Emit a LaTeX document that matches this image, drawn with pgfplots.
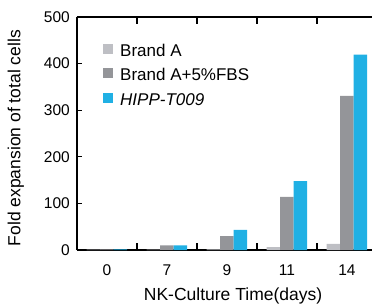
\documentclass[border=0pt]{standalone}
\usepackage{pgfplots}
\pgfplotsset{compat=1.18}
\usepackage{fontspec}
\setmainfont{Liberation Sans}
\definecolor{cA}{RGB}{190,191,196}
\definecolor{cB}{RGB}{148,149,153}
\definecolor{cC}{RGB}{32,176,228}
\begin{document}
\begin{tikzpicture}
\useasboundingbox (-77pt,-55pt) rectangle (295pt,250pt);
\begin{axis}[
  scale only axis, width=295pt, height=233pt,
  ybar=0pt, bar width=13.5pt,
  xmin=-0.5, xmax=4.417, ymin=0, ymax=500,
  axis x line*=box, axis y line*=left,
  axis line style={line width=1.2pt},
  xtick={0,1,2,3,4}, xticklabels={0,7,9,11,14},
  major x tick style={draw=none},
  minor xtick={0.5,1.5,2.5,3.5},
  minor tick length=7pt,
  ytick={0,100,200,300,400,500},
  major tick length=5pt,
  tick align=inside,
  tick style={line width=1.1pt,black},
  every tick label/.append style={font=\fontsize{15.5}{18}\selectfont},
  /pgf/number format/assume math mode=true,
  xticklabel style={anchor=base, yshift=-25pt},
  yticklabel style={anchor=east, inner sep=0pt, xshift=-7pt},
  xlabel={NK-Culture Time(days)},
  ylabel={Fold expansion of total cells},
  label style={font=\fontsize{17.5}{20}\selectfont},
  xlabel style={at={(axis description cs:0.529,-0.2146)}, anchor=base},
  ylabel style={at={(axis description cs:-0.207,0.48)}, anchor=center},
  legend style={at={(0.078,0.905)}, anchor=north west, draw=none, fill=none,
    font=\fontsize{17}{20}\selectfont, row sep=0pt,
    nodes={inner sep=0pt, text height=15pt, text depth=9.5pt}},
  legend cell align=left,
  legend image code/.code={\fill[#1] (0pt,0pt) rectangle (10pt,10pt); \path (17pt,0pt);},
]
\addplot[fill=cA, draw=none] coordinates {(0,1) (1,1) (2,1.5) (3,6) (4,13)};
\addplot[fill=cB, draw=none] coordinates {(0,1.5) (1,10) (2,30) (3,114) (4,331)};
\addplot[fill=cC, draw=none] coordinates {(0,1.5) (1,10) (2,43) (3,148) (4,419)};
\legend{Brand A, Brand A+5\%FBS, \textit{HIPP-T009}}
\end{axis}
\end{tikzpicture}
\end{document}
